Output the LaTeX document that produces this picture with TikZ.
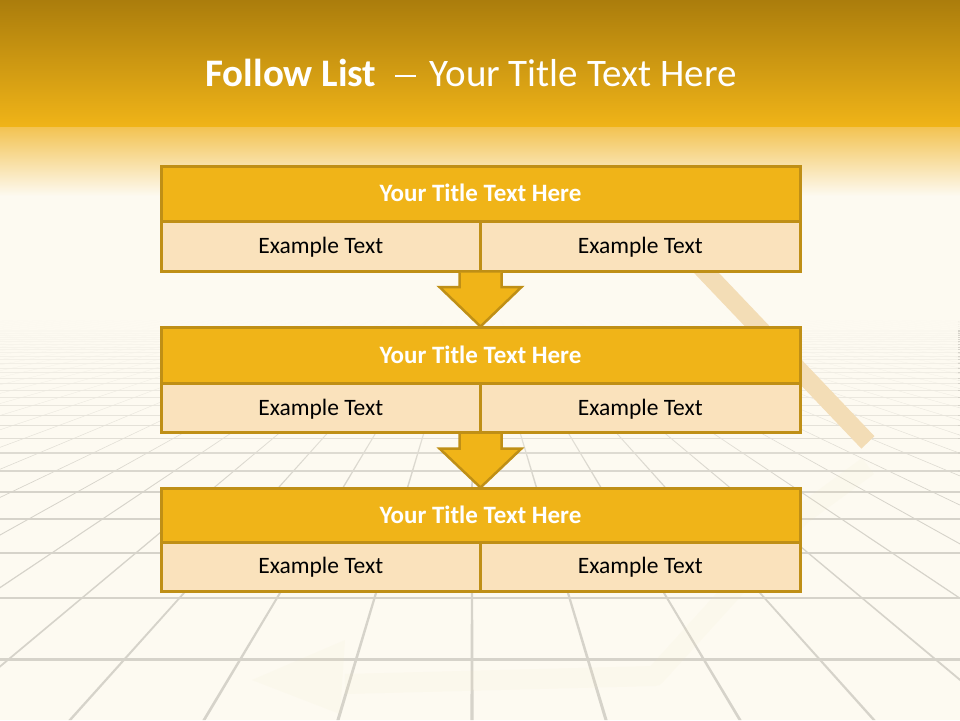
\documentclass[tikz,border=0pt]{standalone}
\usepackage{fontspec}
\setmainfont{Carlito}
\usetikzlibrary{calc,fadings}
\definecolor{gold}{HTML}{F0B418}
\definecolor{golddark}{HTML}{BF8F16}
\definecolor{peach}{HTML}{FAE2BC}
\definecolor{cream}{HTML}{FDFAF1}
\definecolor{bandtop}{HTML}{AB7D0C}
\definecolor{bandfade}{HTML}{F3C352}
\definecolor{gridc}{HTML}{D6D3CA}
\definecolor{stick}{HTML}{F3DDB6}
\definecolor{ghost}{HTML}{EFE8BC}
\tikzfading[name=fadedown, top color=transparent!0, bottom color=transparent!100]
\begin{document}
\begin{tikzpicture}[x=1pt,y=-1pt,
  titlebox/.style={draw=golddark, fill=gold, line width=3pt, minimum width=639pt,
    inner sep=0pt, outer sep=0pt, text=white, text height=15.9pt, text depth=0pt,
    font=\fontsize{25}{30}\selectfont\bfseries},
  examplebox/.style={draw=golddark, fill=peach, line width=3pt, minimum width=319.5pt,
    inner sep=0pt, outer sep=0pt, text=black, text height=14.8pt, text depth=0pt,
    font=\fontsize{23.5}{28}\selectfont},
  flowfill/.style={fill=gold},
  flowedge/.style={draw=golddark, line width=2.5pt, line join=miter},
  maintitle/.style={text=white, inner sep=0pt, text height=24.6pt, text depth=0pt,
    font=\fontsize{39}{44}\selectfont}
]
\useasboundingbox (0,0) rectangle (960,720);
\begin{scope}
\clip (0,0) rectangle (960,720);
% background
\fill[cream] (0,0) rectangle (960,720);
\shade[top color=bandtop, bottom color=gold] (0,0) rectangle (960,127);
\shade[top color=bandfade, bottom color=cream] (0,127) rectangle (960,196);
% perspective grid
\foreach \k in {-40,...,40} {
  \fill[gridc] (472,272) -- ({472+134*\k-1.6},720) -- ({472+134*\k+1.6},720) -- cycle;
}
\foreach \d in {0,...,30} {
  \pgfmathsetmacro\yy{272+2040/(5.26+\d)}
  \pgfmathsetmacro\ww{16/(5.26+\d)}
  \draw[gridc, line width=\ww pt] (0,\yy) -- (960,\yy);
}
\fill[cream] (0,260) rectangle (960,320);
\fill[cream, path fading=fadedown] (0,319) rectangle (960,490);
% decorative stick and ghost arrow
\draw[stick, line width=18pt] (697,263) -- (867.9,442.4);
\draw[ghost, opacity=0.09, line width=20pt, line join=round] (868,466) -- (800,516) -- (655,676) -- (345,684);
\fill[ghost, opacity=0.09] (345,640) -- (252,680) -- (340,714) -- cycle;
\end{scope}

% boxes
\node[titlebox, minimum height=55.5pt] (t1) at (480.5,193.75) {Your Title Text Here};
\node[examplebox, minimum height=49.5pt, anchor=north west] (e1a) at (t1.south west) {Example Text};
\node[examplebox, minimum height=49.5pt, anchor=north east] (e1b) at (t1.south east) {Example Text};

\node[titlebox, minimum height=55.5pt] (t2) at (480.5,355.25) {Your Title Text Here};
\node[examplebox, minimum height=49.5pt, anchor=north west] (e2a) at (t2.south west) {Example Text};
\node[examplebox, minimum height=49.5pt, anchor=north east] (e2b) at (t2.south east) {Example Text};

\node[titlebox, minimum height=53.5pt] (t3) at (480.5,515.25) {Your Title Text Here};
\node[examplebox, minimum height=49pt, anchor=north west] (e3a) at (t3.south west) {Example Text};
\node[examplebox, minimum height=49pt, anchor=north east] (e3b) at (t3.south east) {Example Text};

% arrows between boxes
\foreach \from/\to in {e1a/t2, e2a/t3} {
  \coordinate (s) at (\from.south east);
  \coordinate (tip) at ($(\to.north)+(0,-1)$);
  \fill[flowfill] ($(s)+(-21,1.5)$) -- ($(s)+(-21,16)$) -- ($(s)+(-41,16)$) -- (tip)
     -- ($(s)+(41,16)$) -- ($(s)+(21,16)$) -- ($(s)+(21,1.5)$) -- cycle;
  \draw[flowedge] ($(s)+(-21,1.5)$) -- ($(s)+(-21,16)$) -- ($(s)+(-41,16)$) -- (tip)
     -- ($(s)+(41,16)$) -- ($(s)+(21,16)$) -- ($(s)+(21,1.5)$);
}

% main title
\node[maintitle] (title) at (471,73.7) {\textbf{Follow List}\hspace{19pt}\raisebox{8.75pt}{\rule{21pt}{2.5pt}}\hspace{13pt}Your Title Text Here};
\end{tikzpicture}
\end{document}
